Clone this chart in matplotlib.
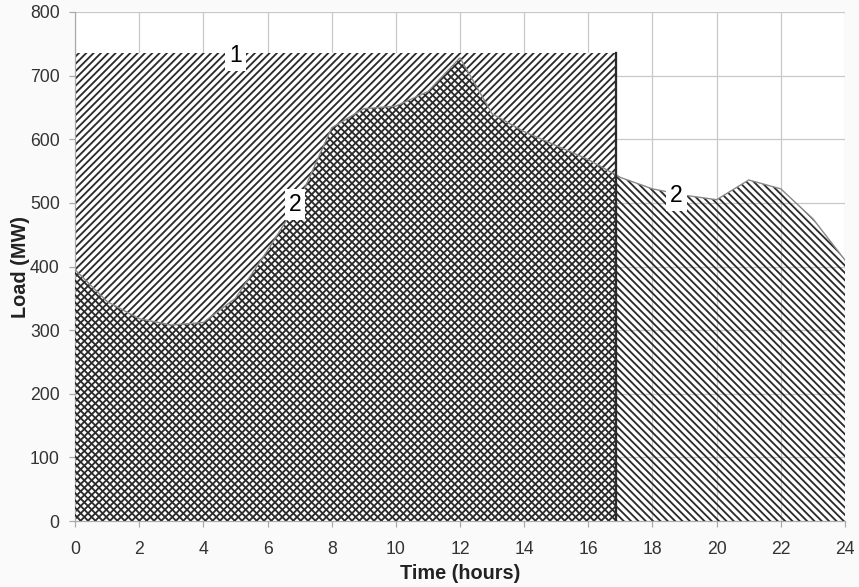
import matplotlib
matplotlib.use('Agg')
import matplotlib.pyplot as plt

# hourly load (MW)
hours = list(range(0, 25))
load = [395, 345, 318, 308, 312, 350, 425, 505, 618, 648, 652, 675, 728,
        640, 612, 590, 568, 540, 522, 512, 505, 536, 522, 475, 410]

# block 1: constant capacity up to ~16.85 h
block_t = [0, 16.85]
block_level = 735

labels = ['1', '2', '2']
label_x = [5.0, 6.85, 18.75]
label_y = [732, 497, 512]

plt.rcParams['font.family'] = ['Liberation Sans', 'DejaVu Sans']
plt.rcParams['hatch.linewidth'] = 1.2

dpi = 110
fig = plt.figure(figsize=(859 / dpi, 587 / dpi), dpi=dpi, facecolor='#fafafa')
ax = fig.add_axes([75 / 859, 1 - 521 / 587, 770 / 859, 509 / 587])
ax.set_facecolor('white')

ink = '#2a2a2a'
ax.fill_between(block_t, 0, block_level, facecolor='white', edgecolor=ink,
                hatch='/////', linewidth=0, zorder=2)
ax.fill_between(hours, 0, load, facecolor='none', edgecolor=ink,
                hatch='\\\\\\\\\\', linewidth=0, zorder=3)
ax.plot(hours, load, color='#888888', lw=0.9, zorder=4)
ax.plot([block_t[1], block_t[1]], [0, block_level], color=ink, lw=1.5, zorder=5)

for t, x, y in zip(labels, label_x, label_y):
    ax.text(x, y, t, fontsize=15, ha='center', va='center', zorder=6,
            bbox=dict(facecolor='white', edgecolor='none', pad=2.5))

ax.set_xlim(0, 24)
ax.set_ylim(0, 800)
ax.set_xticks(range(0, 25, 2))
ax.set_yticks(range(0, 801, 100))
ax.grid(True, color='#c8c8c8', lw=0.8, zorder=0)
ax.set_axisbelow(True)
for s in ['top', 'right']:
    ax.spines[s].set_visible(False)
for s in ['left', 'bottom']:
    ax.spines[s].set_color('#aaaaaa')
    ax.spines[s].set_linewidth(0.8)
ax.tick_params(colors='#aaaaaa', labelcolor='#333333', labelsize=11.5, length=4)
ax.tick_params(axis='x', pad=9)
ax.tick_params(axis='y', pad=6)
ax.set_xlabel('Time (hours)', fontsize=13, fontweight='bold', color='#222222', labelpad=4)
ax.set_ylabel('Load (MW)', fontsize=13, fontweight='bold', color='#222222', labelpad=0)

fig.savefig('out.png', dpi=dpi, facecolor=fig.get_facecolor())
